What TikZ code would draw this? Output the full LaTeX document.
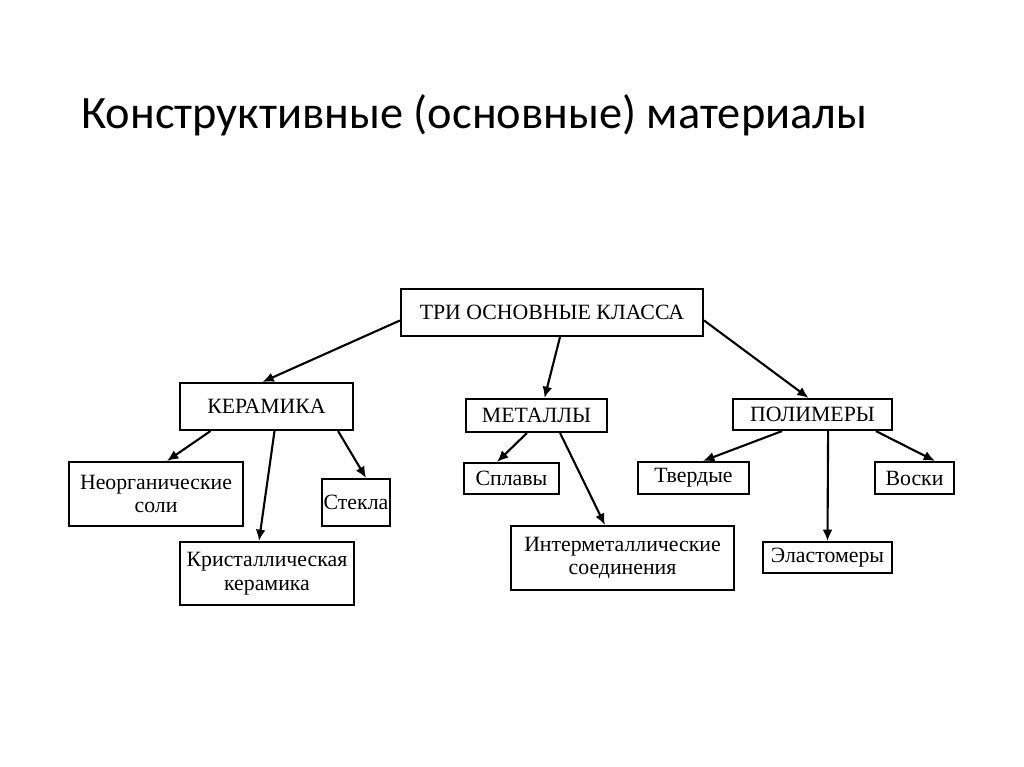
\documentclass[tikz,border=0pt]{standalone}
\usepackage{fontspec}
\setmainfont{Liberation Serif}
\newfontfamily\titlefont{Carlito}
\usetikzlibrary{arrows.meta,positioning,calc}
\tikzset{
  every picture/.style={font=\fontsize{15.5}{17}\selectfont},
  cls/.style={draw,line width=1.5pt,inner sep=0pt,align=center},
  lnk/.style={line width=1.5pt,-{Latex[length=8pt,width=7pt]}},
}

\begin{document}
\begin{tikzpicture}[x=0.025cm,y=-0.025cm]
  \useasboundingbox[fill=white] (0,0) rectangle (1024,767);
  \node[anchor=base west,inner sep=0pt,font=\titlefont\fontsize{33}{38}\selectfont] (title) at (81,129)
    {Конструктивные (основные) материалы};
  % the three classes
  \node[cls,minimum width=7.55cm,minimum height=1.175cm] (root) at (552,312.5) {ТРИ ОСНОВНЫЕ КЛАССА};
  \node[cls,minimum width=4.325cm,minimum height=1.175cm] (kera) at (266.5,406.5) {КЕРАМИКА};
  \node[cls,minimum width=3.525cm,minimum height=0.825cm] (metal) at (536.5,415.5) {МЕТАЛЛЫ};
  \node[cls,minimum width=3.975cm,minimum height=0.775cm] (poly) at (812.5,414.5) {ПОЛИМЕРЫ};
  % their kinds
  \node[cls,minimum width=4.35cm,minimum height=1.6cm] (salt) at (156,494) {Неорганические\\соли};
  \node[cls,minimum width=1.7cm,minimum height=1.175cm] (glass) at (356,502.5) {Стекла};
  \node[cls,minimum width=4.35cm,minimum height=1.575cm] (cryst) at (267,573.5) {Кристаллическая\\керамика};
  \node[cls,minimum width=2.375cm,minimum height=0.775cm] (alloy) at (511.5,478.5) {Сплавы};
  \node[cls,minimum width=5.575cm,minimum height=1.6cm] (inter) at (622.5,558) {Интерметаллические\\соединения};
  \node[cls,minimum width=2.775cm,minimum height=0.8cm] (solid) at (693.5,478) {Твердые};
  \node[cls,minimum width=1.975cm,minimum height=0.8cm] (wax) at (914.5,478) {Воски};
  \node[cls,minimum width=3.225cm,minimum height=0.775cm] (elast) at (827.5,557.5) {Эластомеры};
  % links
  \draw[lnk] ([yshift=-0.2cm]root.west) -- ([xshift=-0.1cm]kera.north);
  \draw[lnk] ([xshift=0.2cm]root.south) -- ([xshift=0.2cm]metal.north);
  \draw[lnk] ([yshift=-0.2cm]root.east) -- ([xshift=-0.1cm]poly.north);
  \draw[lnk] ([xshift=-1.4cm]kera.south) -- ([xshift=0.275cm]salt.north);
  \draw[lnk] ([xshift=0.2cm]kera.south) -- ([xshift=-0.2cm]cryst.north);
  \draw[lnk] ([xshift=-0.4cm]kera.south east) -- ([xshift=0.25cm]glass.north);
  \draw[lnk] ([xshift=-0.24cm]metal.south) -- ([xshift=-0.36cm]alloy.north);
  \draw[lnk] ([xshift=0.59cm]metal.south) -- ([xshift=-0.44cm]inter.north);
  \draw[lnk] ([xshift=-0.76cm]poly.south) -- ([xshift=0.24cm]solid.north);
  \draw[lnk] ([xshift=0.39cm]poly.south) -- (elast.north);
  \draw[lnk] ([xshift=-0.43cm]poly.south east) -- ([xshift=0.51cm]wax.north);
\end{tikzpicture}
\end{document}
